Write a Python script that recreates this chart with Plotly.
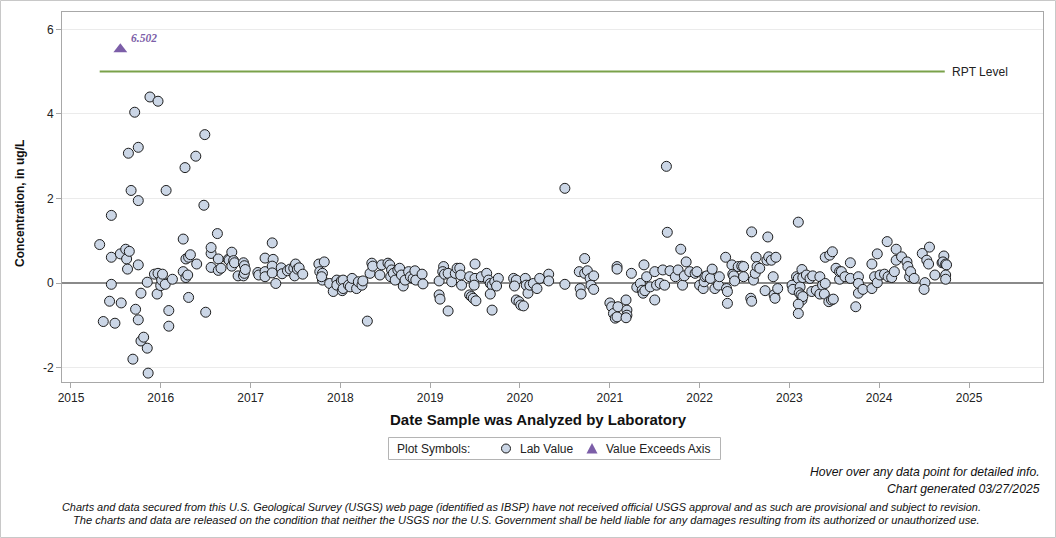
import plotly.graph_objects as go
import pandas as pd

# ---------------- data ----------------
# decimal year of analysis date, and measured concentration (ug/L)
sample_year = [
    2015.32, 2015.36, 2015.43, 2015.45, 2015.45, 2015.45, 2015.49, 2015.55, 2015.56, 2015.61,
    2015.62, 2015.63, 2015.64, 2015.65, 2015.67, 2015.69, 2015.71, 2015.72, 2015.75, 2015.75,
    2015.75, 2015.75, 2015.78, 2015.78, 2015.81, 2015.85, 2015.85, 2015.86, 2015.88, 2015.93,
    2015.96, 2015.97, 2015.97,
    2016.00, 2016.01, 2016.02, 2016.05, 2016.06, 2016.09, 2016.09, 2016.13, 2016.25, 2016.25,
    2016.27, 2016.28, 2016.28, 2016.30, 2016.31, 2016.31, 2016.33, 2016.39, 2016.40, 2016.48,
    2016.49, 2016.50, 2016.56, 2016.56, 2016.56, 2016.63, 2016.64, 2016.64, 2016.67, 2016.75,
    2016.76, 2016.79, 2016.79, 2016.81, 2016.82, 2016.86, 2016.92, 2016.92, 2016.93, 2016.93,
    2016.94,
    2017.08, 2017.09, 2017.16, 2017.16, 2017.16, 2017.24, 2017.25, 2017.24, 2017.24, 2017.28,
    2017.34, 2017.35, 2017.41, 2017.44, 2017.48, 2017.49, 2017.50, 2017.52, 2017.54, 2017.58,
    2017.76, 2017.77, 2017.80, 2017.80, 2017.79, 2017.82,
    2017.88, 2017.92, 2017.96, 2017.96, 2018.01, 2018.02, 2018.03, 2018.03, 2018.09, 2018.11,
    2018.13, 2018.18, 2018.20, 2018.24, 2018.25, 2018.30, 2018.33, 2018.35, 2018.36, 2018.44,
    2018.46, 2018.53, 2018.55, 2018.57, 2018.56, 2018.59, 2018.61, 2018.64, 2018.66, 2018.68,
    2018.70, 2018.72, 2018.76, 2018.78, 2018.81, 2018.83, 2018.84, 2018.91, 2018.92,
    2019.10, 2019.10, 2019.11, 2019.15, 2019.14, 2019.16, 2019.20, 2019.20, 2019.24, 2019.28,
    2019.30, 2019.33, 2019.34, 2019.35, 2019.44, 2019.44, 2019.46, 2019.48, 2019.51, 2019.50,
    2019.50, 2019.49, 2019.57, 2019.63, 2019.65, 2019.67, 2019.69, 2019.67, 2019.69, 2019.72,
    2019.76, 2019.74,
    2019.93, 2019.96, 2019.94, 2019.96, 2019.99, 2020.01, 2020.04, 2020.06, 2020.07, 2020.09,
    2020.11, 2020.15, 2020.19, 2020.22, 2020.32, 2020.32, 2020.50, 2020.50, 2020.66, 2020.67,
    2020.68, 2020.72, 2020.72, 2020.75, 2020.78, 2020.82, 2020.79, 2020.82,
    2021.00, 2021.02, 2021.04, 2021.06, 2021.08, 2021.09, 2021.08, 2021.08, 2021.18, 2021.19,
    2021.19, 2021.18, 2021.24, 2021.30, 2021.34, 2021.36, 2021.37, 2021.38, 2021.39, 2021.41,
    2021.45, 2021.50, 2021.50, 2021.52, 2021.56, 2021.59, 2021.61, 2021.64, 2021.63, 2021.67,
    2021.73, 2021.76, 2021.79, 2021.81, 2021.83, 2021.85, 2021.89, 2021.95, 2021.97,
    2022.00, 2022.04, 2022.05, 2022.06, 2022.08, 2022.12, 2022.14, 2022.17, 2022.21, 2022.22,
    2022.29, 2022.30, 2022.31, 2022.31, 2022.36, 2022.37, 2022.38, 2022.39, 2022.43, 2022.47,
    2022.49, 2022.49, 2022.57, 2022.58, 2022.58, 2022.60, 2022.62, 2022.63, 2022.64, 2022.67,
    2022.73, 2022.76, 2022.75, 2022.77, 2022.80, 2022.82, 2022.83, 2022.84, 2022.85, 2022.87,
    2023.03, 2023.04, 2023.08, 2023.10, 2023.10, 2023.12, 2023.11, 2023.13, 2023.14, 2023.15,
    2023.10, 2023.10, 2023.14, 2023.15, 2023.19, 2023.23, 2023.25, 2023.26, 2023.30, 2023.34,
    2023.34, 2023.37, 2023.40, 2023.39, 2023.40, 2023.44, 2023.45, 2023.47, 2023.48, 2023.49,
    2023.52, 2023.56, 2023.56, 2023.58, 2023.62, 2023.68, 2023.68, 2023.74, 2023.77, 2023.77,
    2023.77, 2023.82, 2023.92, 2023.92, 2023.95, 2023.98, 2023.98,
    2024.01, 2024.06, 2024.10, 2024.09, 2024.14, 2024.17, 2024.19, 2024.19, 2024.25, 2024.31,
    2024.32, 2024.34, 2024.35, 2024.39, 2024.48, 2024.51, 2024.50, 2024.53, 2024.55, 2024.56,
    2024.62, 2024.70, 2024.72, 2024.71, 2024.74, 2024.75, 2024.74, 2024.74,
]
concentration = [
    0.91, -0.91, -0.43, 1.60, 0.61, -0.03, -0.95, 0.69, -0.47, 0.80,
    0.57, 0.33, 3.07, 0.75, 2.19, -1.80, 4.04, -0.62, 1.95, 3.21,
    0.43, -0.87, -1.37, -0.24, -1.28, 0.02, -1.54, -2.13, 4.40, 0.21,
    -0.26, 4.30, 0.23,
    -0.06, 0.07, 0.21, -0.03, 2.19, -0.65, -1.02, 0.09, 1.04, 0.27,
    2.73, 0.57, 0.13, 0.19, 0.61, -0.34, 0.67, 3.00, 0.45, 1.84,
    3.51, -0.69, 0.70, 0.37, 0.84, 1.17, 0.30, 0.57, 0.35, 0.56,
    0.54, 0.73, 0.40, 0.53, 0.48, 0.17, 0.48, 0.17, 0.41, 0.23,
    0.32,
    0.25, 0.19, 0.59, 0.27, 0.15, 0.95, 0.56, 0.40, 0.24, -0.01,
    0.36, 0.22, 0.29, 0.33, 0.35, 0.17, 0.45, 0.33, 0.36, 0.21,
    0.45, 0.27, 0.23, 0.07, 0.15, 0.50,
    -0.01, -0.20, 0.07, -0.05, 0.05, -0.18, 0.07, -0.13, -0.05, -0.09,
    0.11, -0.13, 0.03, -0.05, 0.05, -0.90, 0.23, 0.47, 0.40, 0.19,
    0.43, 0.47, 0.43, 0.31, 0.15, 0.23, 0.07, 0.31, 0.35, 0.19,
    -0.07, 0.07, 0.27, 0.15, 0.11, 0.29, 0.07, 0.21, -0.02,
    0.05, -0.28, -0.38, 0.39, 0.27, 0.21, 0.23, -0.66, 0.03, 0.23,
    0.35, 0.35, 0.19, -0.05, 0.15, -0.28, -0.32, -0.36, -0.42, 0.45,
    0.11, -0.05, 0.15, 0.23, 0.07, -0.01, -0.05, -0.26, -0.64, 0.03,
    0.11, -0.07,
    0.11, 0.07, -0.07, -0.40, -0.44, -0.52, -0.54, 0.11, -0.05, -0.24,
    -0.05, -0.01, -0.13, 0.11, 0.21, 0.05, 2.24, -0.03, 0.27, -0.13,
    -0.26, 0.58, 0.23, 0.29, 0.11, 0.17, -0.05, -0.15,
    -0.47, -0.56, -0.72, -0.83, -0.80, -0.56, 0.39, 0.33, -0.40, -0.64,
    -0.76, -0.82, 0.23, -0.10, -0.01, -0.17, -0.24, 0.43, -0.18, 0.15,
    -0.09, -0.40, 0.27, -0.05, -0.01, 0.31, -0.05, 1.20, 2.76, 0.29,
    0.15, 0.31, 0.80, -0.05, 0.17, 0.50, 0.27, 0.23, 0.27,
    -0.05, -0.13, 0.03, 0.15, 0.17, 0.11, 0.33, -0.13, -0.05, 0.15,
    0.61, -0.13, -0.20, -0.48, 0.43, 0.21, 0.17, 0.05, 0.39, 0.40,
    0.39, 0.15, -0.36, -0.43, 1.21, 0.07, 0.23, 0.61, 0.39, 0.35,
    -0.18, 1.09, 0.54, 0.62, 0.54, 0.15, -0.28, -0.36, 0.61, -0.13,
    -0.05, -0.15, 0.15, 0.11, 1.44, -0.09, -0.23, -0.28, -0.40, -0.32,
    -0.50, -0.72, 0.32, 0.13, 0.19, 0.11, -0.20, 0.17, -0.17, 0.15,
    -0.26, -0.05, -0.01, -0.26, 0.61, -0.44, 0.66, -0.40, 0.74, -0.38,
    0.35, 0.09, 0.27, 0.27, 0.15, 0.48, 0.11, -0.56, 0.15, -0.01,
    -0.24, -0.15, 0.45, -0.13, 0.15, 0.69, 0.01,
    0.19, 0.21, 0.15, 0.98, 0.13, 0.27, 0.80, 0.54, 0.62, 0.50,
    0.39, 0.15, 0.27, 0.11, 0.70, 0.01, -0.15, 0.54, 0.45, 0.85,
    0.19, 0.48, 0.64, 0.50, 0.45, 0.43, 0.19, 0.09,
]

# value that exceeds the axis (shown as a triangle near the top of the plot)
exceed_year = [2015.55]
exceed_value = [6.502]

# reporting level line
rpt_level = 5.0
rpt_start_year = 2015.32
rpt_end_year = 2024.73

year_ticks = list(range(2015, 2026))
y_ticks = [-2, 0, 2, 4, 6]

# ---------------- helpers ----------------
def to_date(y):
    yr = int(y)
    start = pd.Timestamp(year=yr, month=1, day=1)
    end = pd.Timestamp(year=yr + 1, month=1, day=1)
    return start + (end - start) * (y - yr)


dates = [to_date(v) for v in sample_year]
exceed_dates = [to_date(v) for v in exceed_year]
rpt_dates = [to_date(rpt_start_year), to_date(rpt_end_year)]

EXCEED_MARKER_Y = 5.53  # drawing position of the "exceeds axis" symbol

FONT = "Liberation Sans, Arial, sans-serif"
CIRCLE_FILL = "#cbd6e6"
CIRCLE_LINE = "#1c1c1c"
PURPLE = "#7c5ea8"

# plot area in pixels (for converting page positions to paper coords)
W, H = 1056, 538
L, R, T, B = 62, 1043, 12, 382


def px(xp):
    return (xp - L) / (R - L)


def py(yp):
    return (B - yp) / (B - T)


fig = go.Figure()

fig.add_trace(go.Scatter(
    x=rpt_dates, y=[rpt_level, rpt_level], mode="lines",
    line=dict(color="#7aa24a", width=2), showlegend=False, hoverinfo="skip",
))

fig.add_trace(go.Scatter(
    x=dates, y=concentration, mode="markers", name="Lab Value", showlegend=False,
    marker=dict(symbol="circle", size=10, color=CIRCLE_FILL,
                line=dict(color=CIRCLE_LINE, width=1)),
))

fig.add_trace(go.Scatter(
    x=exceed_dates, y=[EXCEED_MARKER_Y] * len(exceed_dates), mode="markers",
    name="Value Exceeds Axis", showlegend=False,
    customdata=exceed_value, hovertemplate="%{customdata}<extra></extra>",
    marker=dict(symbol="triangle-up", size=12, color=PURPLE, line=dict(width=0)),
))

annotations = []
for d, v in zip(exceed_dates, exceed_value):
    annotations.append(dict(
        x=d, y=EXCEED_MARKER_Y, xref="x", yref="y", text=f"<b><i>{v:.3f}</i></b>",
        showarrow=False, xanchor="left", yanchor="bottom", xshift=9, yshift=3,
        font=dict(family="Liberation Serif, Times New Roman, serif", size=11.5, color=PURPLE),
    ))

annotations.append(dict(
    x=rpt_dates[1], y=rpt_level, xref="x", yref="y", text="RPT Level",
    showarrow=False, xanchor="left", yanchor="middle", xshift=5,
    font=dict(family=FONT, size=12, color="#222222"),
))

# axis titles
annotations.append(dict(
    x=px(538), y=py(419), xref="paper", yref="paper",
    text="<b>Date Sample was Analyzed by Laboratory</b>", showarrow=False,
    xanchor="center", yanchor="middle", font=dict(family=FONT, size=15, color="#111111"),
))
annotations.append(dict(
    x=px(20), y=py(204), xref="paper", yref="paper", textangle=-90,
    text="<b>Concentration, in ug/L</b>", showarrow=False,
    xanchor="center", yanchor="middle", font=dict(family=FONT, size=12, color="#111111"),
))

# legend (drawn by hand to match the boxed single-row legend)
LEG_Y = 448.5
annotations += [
    dict(x=px(395), y=py(LEG_Y), xref="paper", yref="paper", text="Plot Symbols:",
         showarrow=False, xanchor="left", yanchor="middle",
         font=dict(family=FONT, size=12, color="#222222")),
    dict(x=px(518), y=py(LEG_Y), xref="paper", yref="paper", text="Lab Value",
         showarrow=False, xanchor="left", yanchor="middle",
         font=dict(family=FONT, size=12, color="#222222")),
    dict(x=px(604), y=py(LEG_Y), xref="paper", yref="paper", text="Value Exceeds Axis",
         showarrow=False, xanchor="left", yanchor="middle",
         font=dict(family=FONT, size=12, color="#222222")),
]

# footer texts
FOOT = dict(family=FONT, color="#111111")
annotations.append(dict(
    x=px(1042), y=py(472), xref="paper", yref="paper",
    text="<i>Hover over any data point for detailed info.</i>", showarrow=False,
    xanchor="right", yanchor="middle", font=dict(size=12.2, **FOOT),
))
annotations.append(dict(
    x=px(1042), y=py(489), xref="paper", yref="paper",
    text="<i>Chart generated 03/27/2025</i>", showarrow=False,
    xanchor="right", yanchor="middle", font=dict(size=12.2, **FOOT),
))
annotations.append(dict(
    x=px(521.5), y=py(507), xref="paper", yref="paper",
    text="<i>Charts and data secured from this U.S. Geological Survey (USGS) web page (identified as IBSP) have not received official USGS approval and as such are provisional and subject to revision.</i>",
    showarrow=False, xanchor="center", yanchor="middle", font=dict(size=10.9, **FOOT),
))
annotations.append(dict(
    x=px(526.5), y=py(520), xref="paper", yref="paper",
    text="<i>The charts and data are released on the condition that neither the USGS nor the U.S. Government shall be held liable for any damages resulting from its authorized or unauthorized use.</i>",
    showarrow=False, xanchor="center", yanchor="middle", font=dict(size=11.1, **FOOT),
))

shapes = [
    # outer page border
    dict(type="rect", xref="paper", yref="paper",
         x0=px(0.5), x1=px(W - 0.5), y0=py(H - 0.5), y1=py(0.5),
         line=dict(color="#c8c8c8", width=1), layer="below"),
    # legend box
    dict(type="rect", xref="paper", yref="paper",
         x0=px(388.5), x1=px(720.5), y0=py(459.5), y1=py(437.5),
         line=dict(color="#b4b4b4", width=1), fillcolor="white", layer="below"),
    # legend circle
    dict(type="circle", xref="paper", yref="paper",
         x0=px(501.5), x1=px(510.5), y0=py(453), y1=py(444),
         line=dict(color=CIRCLE_LINE, width=1), fillcolor=CIRCLE_FILL),
    # legend triangle
    dict(type="path", xref="paper", yref="paper",
         path=f"M {px(592)} {py(443)} L {px(597.5)} {py(453.5)} L {px(586.5)} {py(453.5)} Z",
         line=dict(width=0), fillcolor=PURPLE),
]

fig.update_layout(
    width=W, height=H,
    margin=dict(l=L, r=W - R, t=T, b=H - B),
    paper_bgcolor="white", plot_bgcolor="white",
    font=dict(family=FONT, size=12, color="#222222"),
    showlegend=False,
    annotations=annotations,
    shapes=shapes,
    hovermode="closest",
)

fig.update_xaxes(
    type="date",
    range=[to_date(2014.90), to_date(2025.824)],
    tickvals=[pd.Timestamp(year=y, month=1, day=1) for y in year_ticks],
    ticktext=[str(y) for y in year_ticks],
    showgrid=False, zeroline=False,
    showline=True, linecolor="#a8a8a8", linewidth=1, mirror=True,
    ticks="outside", ticklen=5, tickcolor="#a8a8a8",
    tickfont=dict(family=FONT, size=12, color="#222222"),
)
fig.update_yaxes(
    range=[-2.34, 6.41],
    tickvals=y_ticks, ticktext=[str(v) for v in y_ticks],
    showgrid=True, gridcolor="#ebebeb", gridwidth=1,
    zeroline=True, zerolinecolor="#8a8a8a", zerolinewidth=2,
    showline=True, linecolor="#a8a8a8", linewidth=1, mirror=True,
    ticks="outside", ticklen=5, tickcolor="#a8a8a8",
    tickfont=dict(family=FONT, size=12, color="#222222"),
)

fig.write_html("out.html")
